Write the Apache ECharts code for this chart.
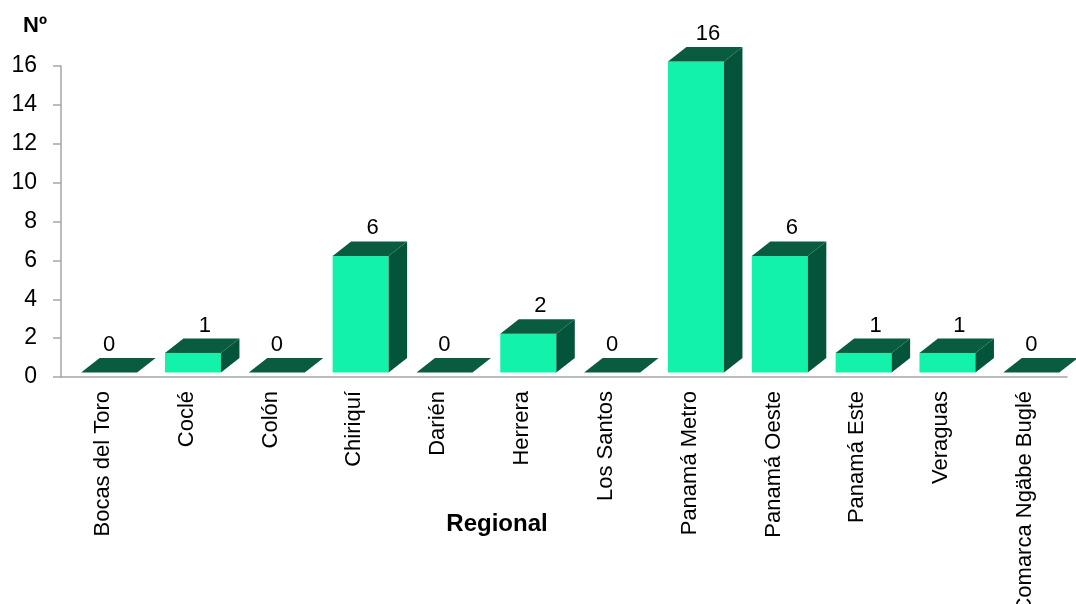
<!DOCTYPE html>
<html>
<head>
<meta charset="utf-8">
<script src="https://cdn.jsdelivr.net/npm/echarts@6/dist/echarts.min.js"></script>
<style>
html,body{margin:0;padding:0;background:#fff;}
#chart{width:1076px;height:604px;}
</style>
</head>
<body>
<div id="chart"></div>
<script>
var categories = ['Bocas del Toro','Coclé','Colón','Chiriquí','Darién','Herrera','Los Santos','Panamá Metro','Panamá Oeste','Panamá Este','Veraguas','Comarca Ngäbe Buglé'];
var values = [0,1,0,6,0,2,0,16,6,1,1,0];
var yTicks = {min:0, max:16, interval:2};

var FONT = '"Liberation Sans", Arial, sans-serif';
var chart = echarts.init(document.getElementById('chart'));

function renderBar(params, api){
  var i = api.value(0), v = api.value(1);
  var base = api.coord([i, 0]);
  var top = api.coord([i, v]);
  var bw = api.size([1, 0])[0];
  var lift = 4.5;
  var x0 = base[0] - bw/2 + bw*0.24;
  var x1 = x0 + bw*0.668;
  var yb = base[1] - lift, yt = top[1] - lift;
  var dx = 18.5, dy = 14.5;
  var children = [];
  if (v > 0) {
    children.push({type:'rect', shape:{x:x0, y:yt, width:x1-x0, height:yb-yt}, style:{fill:'#12F2AA'}});
    children.push({type:'polygon', shape:{points:[[x1,yb],[x1+dx,yb-dy],[x1+dx,yt-dy],[x1,yt]]}, style:{fill:'#03543A'}});
  }
  children.push({type:'polygon', shape:{points:[[x0,yt],[x0+dx,yt-dy],[x1+dx,yt-dy],[x1,yt]]}, style:{fill:'#0A5C41'}});
  var lx = (x0 + x1)/2 + (v > 0 ? 12 : 0);
  children.push({type:'text', style:{x:lx, y:yt-dy-2, text:String(v), fill:'#000', font:'22px ' + FONT, textAlign:'center', textVerticalAlign:'bottom'}});
  return {type:'group', children:children};
}

var option = {
  backgroundColor:'#fff',
  animation:false,
  grid:{left:61, right:9, top:66, bottom:227, containLabel:false, outerBoundsMode:'none'},
  xAxis:{
    type:'category',
    data:categories,
    axisLine:{lineStyle:{color:'#a6a6a6', width:1.5}},
    axisTick:{length:6, lineStyle:{color:'#a6a6a6', width:1.5}},
    axisLabel:{rotate:90, fontSize:22, margin:14, color:'#000', fontFamily:FONT, interval:0}
  },
  yAxis:{
    type:'value',
    min:yTicks.min, max:yTicks.max, interval:yTicks.interval,
    axisLine:{show:true, lineStyle:{color:'#a6a6a6', width:1.5}},
    axisTick:{show:true, length:8, lineStyle:{color:'#a6a6a6', width:1.5}},
    splitLine:{show:false},
    axisLabel:{fontSize:23, margin:24, color:'#000', fontFamily:FONT}
  },
  graphic:[
    {type:'text', left:23, top:15, style:{text:'Nº', font:'bold 22px ' + FONT, fill:'#000'}},
    {type:'text', x:497, y:524, style:{text:'Regional', font:'bold 24px ' + FONT, fill:'#000', textAlign:'center', textVerticalAlign:'middle'}}
  ],
  series:[{
    type:'custom',
    renderItem:renderBar,
    clip:false,
    data:values.map(function(v,i){return [i,v];}),
    encode:{x:0, y:1}
  }]
};
chart.setOption(option);
</script>
</body>
</html>
